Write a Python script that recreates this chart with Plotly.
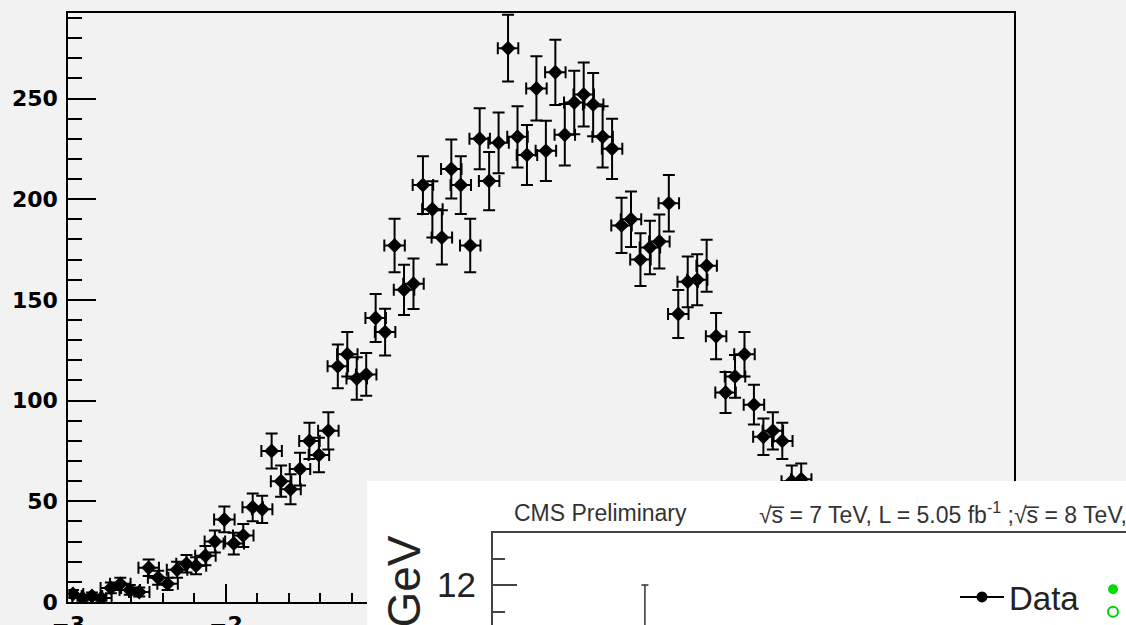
import plotly.graph_objects as go

W, H = 1126, 625

# ---------------- data ----------------
# main histogram: 0.06-wide bins starting at -3 (bins hidden under the inset are not readable)
bin_start = -3.0
bin_width = 0.06
counts = [4, 2, 3, 2, 7, 9, 6, 5, 17, 12,
          9, 16, 19, 18, 23, 30, 41, 29, 33, 47,
          46, 75, 60, 56, 66, 80, 73, 85, 117, 123,
          111, 113, 141, 134, 177, 155, 158, 207, 195, 181,
          215, 207, 177, 230, 209, 228, 275, 231, 222, 255,
          224, 263, 232, 248, 252, 247, 231, 225, 187, 190,
          170, 176, 179, 198, 143, 159, 160, 167, 132, 104,
          112, 123, 98, 82, 85, 80, 60, 61]
bin_centers = [bin_start + bin_width * (i + 0.5) for i in range(len(counts))]

# inset (partially visible CMS plot)
inset_mass = [104]
inset_events = [9]
inset_legend_names = ["7 TeV", "8 TeV"]
hidden_values = [None]  # the green series' points are outside the visible part of the inset


def px(x):
    return x / W


def py(y):
    return (H - y) / H


fig = go.Figure()

# main histogram points
fig.add_trace(go.Scatter(
    x=bin_centers, y=counts, mode="markers",
    marker=dict(symbol="diamond", size=11.5, color="black"),
    error_y=dict(type="sqrt", color="black", thickness=2, width=6),
    error_x=dict(type="constant", value=0.065, color="black", thickness=2, width=6),
    xaxis="x", yaxis="y", showlegend=False, hoverinfo="x+y"))

# white cover subplot for the inset picture
fig.add_trace(go.Scatter(x=[], y=[], xaxis="x2", yaxis="y2", showlegend=False, hoverinfo="skip"))

# inset data
fig.add_trace(go.Scatter(
    x=inset_mass, y=inset_events, name="Data", mode="lines+markers",
    marker=dict(color="black", size=11), line=dict(color="black", width=2),
    error_y=dict(type="sqrt", color="#333333", thickness=1.5, width=3.5),
    xaxis="x3", yaxis="y3", legend="legend"))
fig.add_trace(go.Scatter(
    x=hidden_values, y=hidden_values, name=inset_legend_names[0], mode="markers",
    marker=dict(color="#00dd00", size=10, symbol="circle"),
    xaxis="x3", yaxis="y3", legend="legend2"))
fig.add_trace(go.Scatter(
    x=hidden_values, y=hidden_values, name=inset_legend_names[1], mode="markers",
    marker=dict(color="#00cc00", size=10, symbol="circle-open", line=dict(width=2, color="#00cc00")),
    xaxis="x3", yaxis="y3", legend="legend2"))

tickfont_main = dict(family="DejaVu Sans", size=22, color="black", weight="bold")

y_top = (602 - 13) / 2.014

fig.update_layout(
    width=W, height=H,
    margin=dict(l=0, r=0, t=0, b=0, autoexpand=False),
    paper_bgcolor="#f2f2f2", plot_bgcolor="white",
    showlegend=True,
    xaxis=dict(domain=[px(68.3), px(1014)], range=[-3, 3], anchor="y",
               showline=True, linecolor="black", linewidth=2, mirror=True,
               ticks="inside", ticklen=18, tickwidth=2, tickcolor="black",
               tick0=-3, dtick=1,
               minor=dict(dtick=0.2, tick0=-3, ticklen=9, tickwidth=2, tickcolor="black", ticks="inside"),
               tickfont=tickfont_main, ticklabelstandoff=2,
               showgrid=False, zeroline=False),
    yaxis=dict(domain=[py(602), py(13)], range=[0, y_top], anchor="x",
               showline=True, linecolor="black", linewidth=2, mirror=True,
               ticks="inside", ticklen=28, tickwidth=2, tickcolor="black",
               tick0=0, dtick=50,
               minor=dict(dtick=10, tick0=0, ticklen=14, tickwidth=2, tickcolor="black", ticks="inside"),
               tickfont=tickfont_main, ticklabelstandoff=4,
               showgrid=False, zeroline=False),
    xaxis2=dict(domain=[px(367), 1], range=[0, 1], anchor="y2", visible=False),
    yaxis2=dict(domain=[0, py(481)], range=[0, 1], anchor="x2", visible=False),
    xaxis3=dict(domain=[px(493), 1], range=[80, 180], anchor="y3", side="top",
                showline=True, linecolor="#444444", linewidth=2,
                ticks="", showticklabels=False, showgrid=False, zeroline=False),
    yaxis3=dict(domain=[0, py(533)], range=[12 - 40 / 26.5, 12 + 52 / 26.5], anchor="x3",
                showline=True, linecolor="#444444", linewidth=2,
                ticks="inside", ticklen=24, tickwidth=2, tickcolor="#444444",
                tick0=0, dtick=2,
                minor=dict(dtick=1, tick0=0, ticklen=12, tickwidth=2, tickcolor="#444444", ticks="inside"),
                tickfont=dict(family="Liberation Sans", size=35, color="#222222"),
                ticklabelstandoff=8, showgrid=False, zeroline=False),
    legend=dict(x=px(955), y=py(597), xanchor="left", yanchor="middle",
                bgcolor="rgba(0,0,0,0)", borderwidth=0, itemwidth=44,
                font=dict(family="Liberation Sans", size=33, color="#222222")),
    legend2=dict(x=px(1093), y=py(600.5), xanchor="left", yanchor="middle",
                 bgcolor="rgba(0,0,0,0)", borderwidth=0, tracegroupgap=0,
                 font=dict(family="Liberation Sans", size=15, color="#222222")),
    shapes=[dict(type="rect", xref="x", yref="y", x0=-3, x1=3, y0=0, y1=y_top,
                 fillcolor="#f2f2f2", line=dict(width=0), layer="below")],
    annotations=[
        dict(text="CMS Preliminary", x=px(512), y=py(513), xref="paper", yref="paper",
             xanchor="left", yanchor="middle", showarrow=False,
             font=dict(family="Liberation Sans", size=23, color="#333333")),
        dict(text="√s̅ = 7 TeV, L = 5.05 fb<sup>-1</sup> ;√s̅ = 8 TeV, L = 5.26 fb<sup>-1</sup>",
             x=px(757), y=py(513), xref="paper", yref="paper",
             xanchor="left", yanchor="middle", showarrow=False,
             font=dict(family="Liberation Sans", size=23, color="#333333")),
        dict(text="Events / GeV", textangle=-90, x=px(403), y=py(534), xref="paper", yref="paper",
             xanchor="center", yanchor="top", showarrow=False,
             font=dict(family="Liberation Sans", size=46, color="#222222")),
    ],
)

fig.write_html("out.html")
